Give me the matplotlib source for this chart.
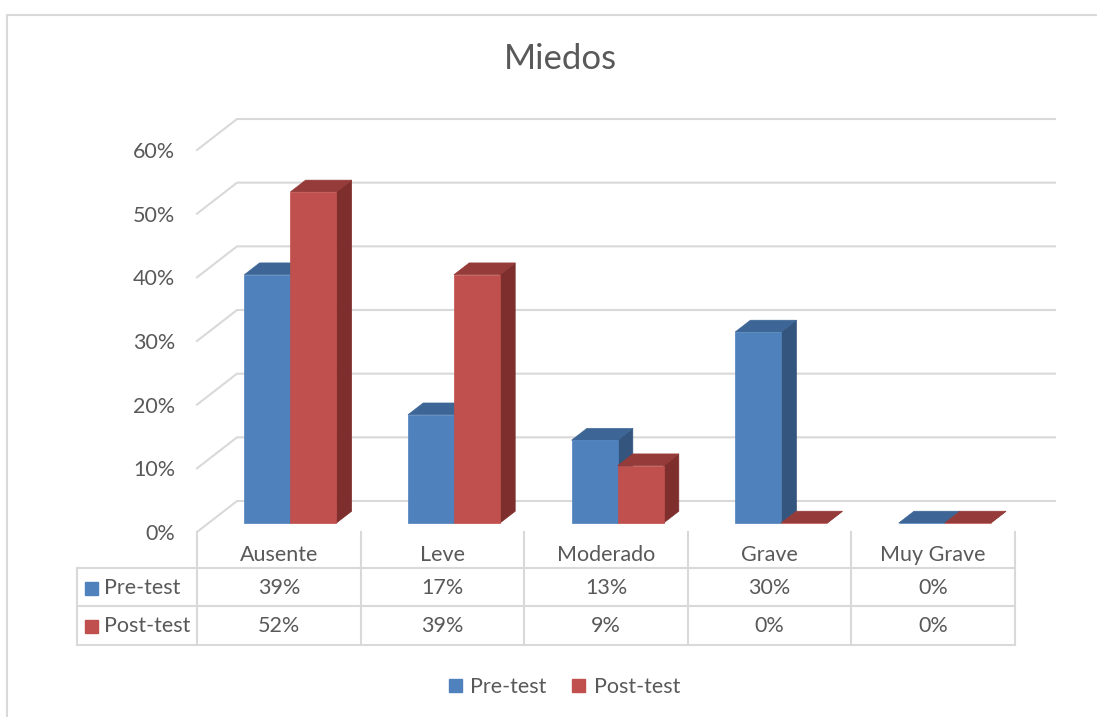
import matplotlib.pyplot as plt
import matplotlib.transforms as mtransforms
from matplotlib.patches import Polygon, Rectangle, Patch

plt.rcParams['font.family'] = ['Lato', 'DejaVu Sans']

categories = ['Ausente', 'Leve', 'Moderado', 'Grave', 'Muy Grave']
pre_test = [39, 17, 13, 30, 0]
post_test = [52, 39, 9, 0, 0]
series_names = ['Pre-test', 'Post-test']
y_ticks = [0, 10, 20, 30, 40, 50, 60]

text_color = '#595959'
grid_color = '#D9D9D9'
colors = {
    'Pre-test': ('#4F81BD', '#3D6696', '#33557E'),
    'Post-test': ('#C0504D', '#953B39', '#7E2F2D'),
}

W, H = 1097, 717
fig = plt.figure(figsize=(W / 100, H / 100), dpi=100)

# plot box in pixels (front plane): x 197..1015, y 150..532
left_px, right_px, top_px, bot_px = 197, 1015, 150, 532
ax = fig.add_axes([left_px / W, 1 - bot_px / H,
                   (right_px - left_px) / W, (bot_px - top_px) / H])
ax.set_xlim(-0.5, len(categories) - 0.5)
ax.set_ylim(0, 60)
for s in ax.spines.values():
    s.set_visible(False)
ax.set_xticks([])
ax.set_yticks(y_ticks)
ax.set_yticklabels([f'{t}%' for t in y_ticks], fontsize=15.5, color=text_color)
ax.tick_params(axis='y', length=0, pad=15.5)

# depth offsets of the 3d box (pixels -> data units)
px_x = len(categories) / (right_px - left_px)
px_y = 60 / (bot_px - top_px)
DX, DY = 40 * px_x, 31 * px_y

# back wall + left wall gridlines
x0, x1 = -0.5, len(categories) - 0.5
for t in y_ticks:
    ax.plot([x0, x0 + DX, x1 + DX], [t, t + DY, t + DY], color=grid_color,
            lw=1.5, clip_on=False, zorder=1)

# 3d columns
bw = 46 * px_x
d0, d1 = 0.29, 0.67
ox, oy = d0 * DX, d0 * DY
ddx, ddy = (d1 - d0) * DX, (d1 - d0) * DY

def draw_series(values, name, shift, z):
    front, top, side = colors[name]
    lefts = [i + shift + ox for i in range(len(values))]
    for xl, v in zip(lefts, values):
        xr = xl + bw
        ax.add_patch(Polygon([(xr, oy), (xr + ddx, oy + ddy), (xr + ddx, oy + ddy + v),
                              (xr, oy + v)], closed=True, fc=side, ec=side, lw=0.5,
                             clip_on=False, zorder=z))
        ax.add_patch(Polygon([(xl, oy + v), (xr, oy + v), (xr + ddx, oy + v + ddy),
                              (xl + ddx, oy + v + ddy)], closed=True, fc=top, ec=top,
                             lw=0.5, clip_on=False, zorder=z))
    ax.bar(lefts, values, width=bw, bottom=oy, align='edge', color=front,
           edgecolor=front, lw=0.5, clip_on=False, zorder=z + 0.5)

draw_series(pre_test, 'Pre-test', -bw, 2)
draw_series(post_test, 'Post-test', 0, 4)

# data table below the plot
tr = mtransforms.blended_transform_factory(ax.transData, ax.transAxes)
def ya(py):
    return (bot_px - py) / (bot_px - top_px)
xl_tab = -0.5 + (77 - left_px) * px_x
row_lines = [568, 606, 645]
for py in row_lines:
    ax.plot([xl_tab, x1], [ya(py), ya(py)], transform=tr, color=grid_color,
            lw=1.5, clip_on=False)
for k in range(len(categories) + 1):
    ax.plot([k - 0.5, k - 0.5], [ya(532), ya(645)], transform=tr,
            color=grid_color, lw=1.5, clip_on=False)
ax.plot([xl_tab, xl_tab], [ya(568), ya(645)], transform=tr, color=grid_color,
        lw=1.5, clip_on=False)

for i, c in enumerate(categories):
    ax.text(i, ya(555), c, transform=tr, ha='center', va='center',
            fontsize=15.5, color=text_color)
for row, (name, vals) in enumerate(zip(series_names, [pre_test, post_test])):
    yc = ya([588, 626][row])
    for i, v in enumerate(vals):
        ax.text(i, yc, f'{v}%', transform=tr, ha='center', va='center',
                fontsize=15.5, color=text_color)
    ax.add_patch(Rectangle((-0.5 + (85 - left_px) * px_x, yc - 7 / 382),
                           13 * px_x, 13 / 382, transform=tr,
                           color=colors[name][0], clip_on=False))
    ax.text(-0.5 + (104 - left_px) * px_x, yc, name, transform=tr, ha='left',
            va='center', fontsize=15.5, color=text_color)

fig.text(0.511, 1 - 59 / H, 'Miedos', ha='center', va='center', fontsize=25,
         color=text_color)

handles = [Patch(color=colors[n][0], label=n) for n in series_names]
fig.legend(handles=handles, loc='center', bbox_to_anchor=(0.5146, 1 - 687 / H),
           ncol=2, frameon=False, fontsize=15.5, labelcolor=text_color,
           handlelength=0.6, handleheight=0.6, handletextpad=0.4,
           columnspacing=1.2)

# chart area border
fig.patches.append(Rectangle((7 / W, -0.05), 1.1, 1 - 14.5 / H + 0.05,
                             transform=fig.transFigure, fill=False,
                             ec=grid_color, lw=1.5))

fig.savefig('out.png', dpi=100)
